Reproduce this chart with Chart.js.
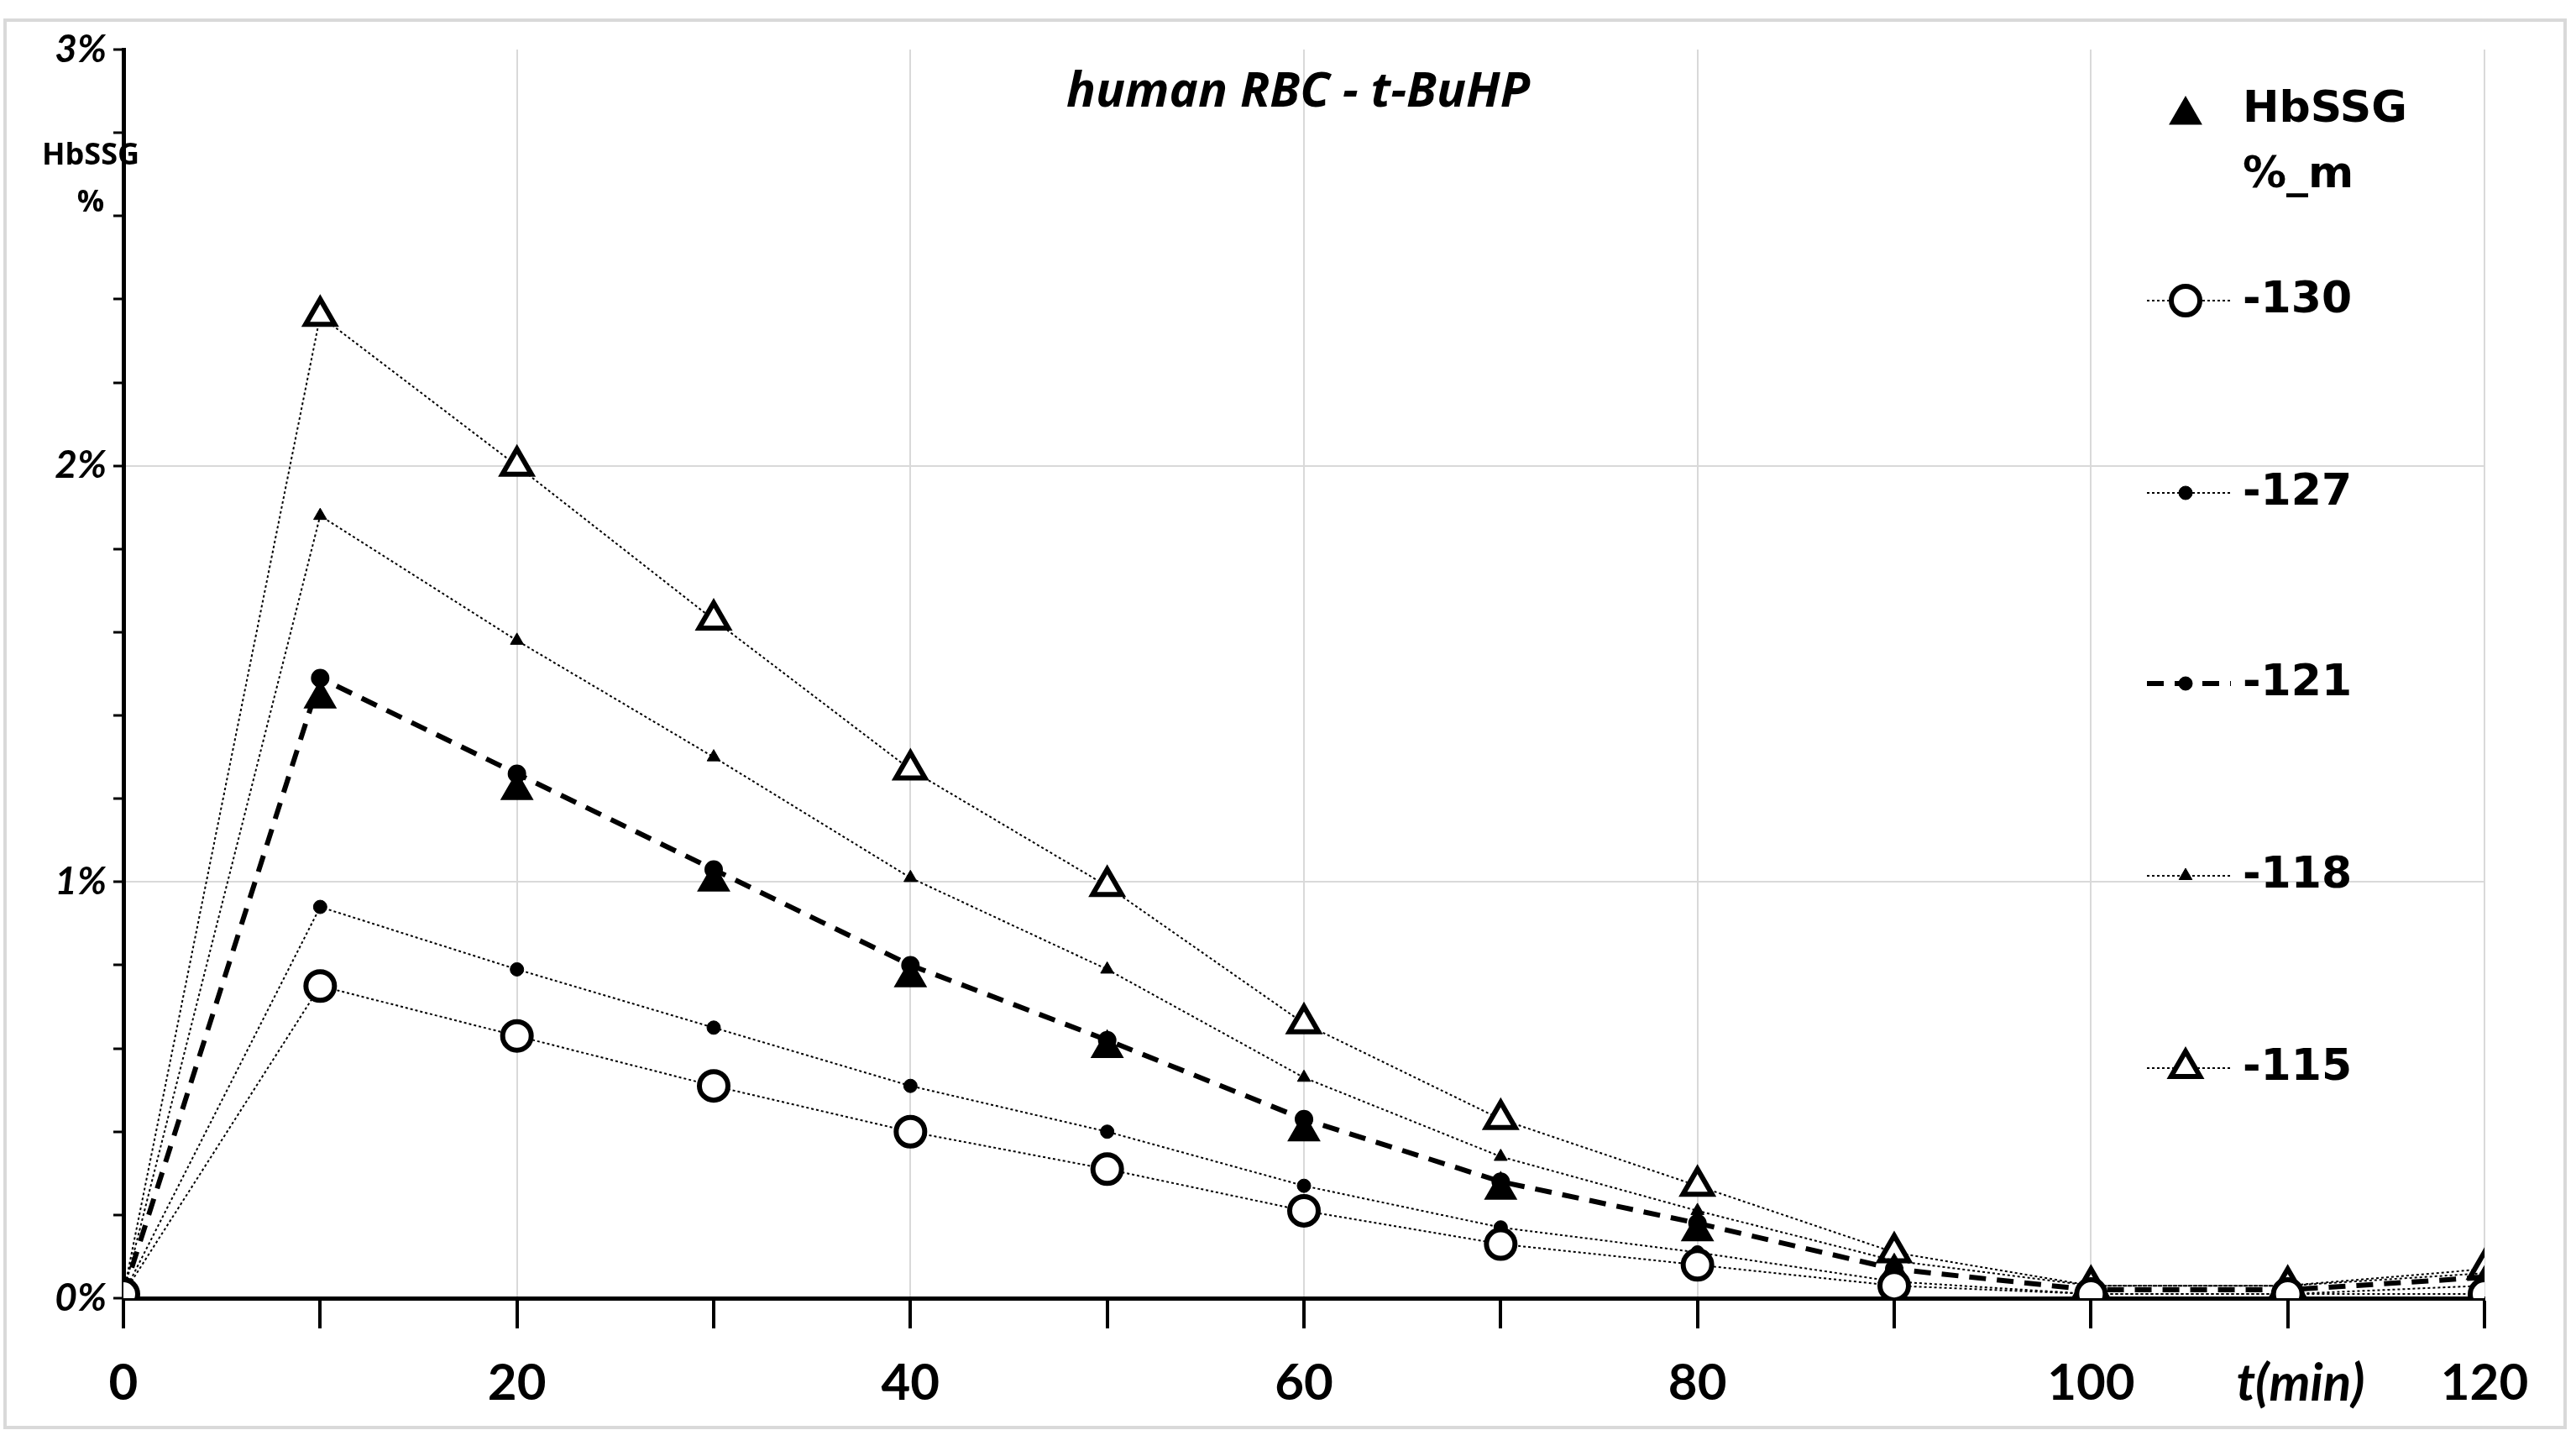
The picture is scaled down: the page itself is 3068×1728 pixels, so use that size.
<!DOCTYPE html>
<html><head><meta charset="utf-8">
<script src="https://cdn.jsdelivr.net/npm/chart.js@4/dist/chart.umd.min.js"></script>
<style>html,body{margin:0;padding:0;background:#fff}#wrap{width:3068px;height:1728px}</style>
</head><body><div id="wrap"><canvas id="c" width="3068" height="1728"></canvas></div>
<script>
const times = [0,10,20,30,40,50,60,70,80,90,100,110,120];
const s130 = [0.01,0.75,0.63,0.51,0.40,0.31,0.21,0.13,0.08,0.03,0.01,0.01,0.01];
const s127 = [0.01,0.94,0.79,0.65,0.51,0.40,0.27,0.17,0.11,0.04,0.01,0.01,0.03];
const s121 = [0.01,1.49,1.26,1.03,0.80,0.62,0.43,0.28,0.18,0.07,0.02,0.02,0.05];
const s118 = [0.01,1.88,1.58,1.30,1.01,0.79,0.53,0.34,0.21,0.09,0.03,0.03,0.06];
const s115 = [0.01,2.36,2.00,1.63,1.27,0.99,0.66,0.43,0.27,0.11,0.03,0.03,0.07];
const hbssgM = [0.01,1.44,1.22,1.00,0.77,0.60,0.40,0.26,0.16,0.06,0.02,0.02,0.03];
const yTickLabels = {0:'0%',1:'1%',2:'2%',3:'3%'};
const xLabelEvery = 20;

const pts = a => a.map((v,i)=>({x:times[i],y:v}));
const dotted = {borderColor:'#000',borderWidth:2,borderDash:[3,3],pointBorderColor:'#000',tension:0};
const datasets = [
 {label:'-130',data:pts(s130),...dotted,pointStyle:'circle',pointRadius:17,pointBackgroundColor:'#fff',pointBorderWidth:6},
 {label:'-127',data:pts(s127),...dotted,pointStyle:'circle',pointRadius:8,pointBackgroundColor:'#000',pointBorderWidth:1},
 {label:'-118',data:pts(s118),...dotted,pointStyle:'triangle',pointRadius:9,pointBackgroundColor:'#000',pointBorderWidth:1},
 {label:'-115',data:pts(s115),...dotted,pointStyle:'triangle',pointRadius:20,pointBackgroundColor:'#fff',pointBorderWidth:6},
 {label:'HbSSG %_m',data:pts(hbssgM),showLine:false,pointStyle:'triangle',pointRadius:21,pointBackgroundColor:'#000',pointBorderColor:'#000',pointBorderWidth:2},
 {label:'-121',data:pts(s121),borderColor:'#000',borderWidth:6,borderDash:[20,13],pointStyle:'circle',pointRadius:8,pointBackgroundColor:'#000',pointBorderColor:'#000',tension:0},
];

function marker(ctx,style,x,y,r,fill,bw){
  ctx.save();ctx.beginPath();
  if(style==='circle'){ctx.arc(x,y,r,0,Math.PI*2);}
  else{ctx.moveTo(x,y-r);ctx.lineTo(x+r*0.866,y+r*0.5);ctx.lineTo(x-r*0.866,y+r*0.5);ctx.closePath();}
  ctx.fillStyle=fill;ctx.fill();ctx.lineWidth=bw;ctx.strokeStyle='#000';ctx.stroke();ctx.restore();
}

const deco = {id:'deco',afterDraw(chart){
  const ctx=chart.ctx;ctx.save();
  ctx.strokeStyle='#d9d9d9';ctx.lineWidth=4;ctx.strokeRect(6,24,3049,1676);
  ctx.fillStyle='#000';ctx.textBaseline='middle';
  ctx.font='italic bold 58px "Open Sans", sans-serif';ctx.textAlign='center';
  ctx.fillText('human RBC - t-BuHP',1546,110);
  ctx.font='bold 36px "Open Sans", sans-serif';
  ctx.fillText('HbSSG',108,186);ctx.fillText('%',108,242);
  ctx.font='italic bold 62px "Liberation Sans Narrow", Lato, sans-serif';
  ctx.fillText('t(min)',2740,1648);
  ctx.textAlign='left';ctx.font='bold 52px "DejaVu Sans", sans-serif';
  marker(ctx,'tri',2603,137,21,'#000',2);
  ctx.fillText('HbSSG',2671,131);ctx.fillText('%_m',2671,209);
  const rows=[['-130',358,'circle',17,'#fff',6,false],['-127',587,'circle',8,'#000',1,false],['-121',814,'circle',8,'#000',1,true],['-118',1043,'tri',9,'#000',1,false],['-115',1272,'tri',20,'#fff',6,false]];
  rows.forEach(r=>{
    ctx.save();ctx.beginPath();ctx.moveTo(2557,r[1]);ctx.lineTo(2657,r[1]);
    ctx.setLineDash(r[6]?[20,13]:[3,3]);ctx.lineWidth=r[6]?6:2;ctx.strokeStyle='#000';ctx.stroke();ctx.restore();
    marker(ctx,r[2],2603,r[1],r[3],r[4],r[5]);
    ctx.fillText(r[0],2671,r[1]);
  });
  ctx.restore();
}};

new Chart(document.getElementById('c'),{
 type:'line',data:{datasets},
 options:{responsive:false,animation:false,
  layout:{padding:{top:59,right:109,left:0,bottom:0}},
  plugins:{legend:{display:false},tooltip:{enabled:false}},
  scales:{
   x:{type:'linear',min:0,max:120,
     afterFit(s){s.height=182;},
     border:{color:'#000',width:5},
     grid:{color:c=>(c.tick&&c.tick.value%20===0&&c.tick.value>0)?'#d9d9d9':'rgba(0,0,0,0)',lineWidth:2,tickColor:'#000',tickWidth:4,tickLength:36},
     ticks:{stepSize:10,autoSkip:false,maxRotation:0,color:'#000',padding:30,
       font:{family:'"Liberation Sans Narrow", Lato, sans-serif',weight:'bold',size:60},
       callback:v=>v%xLabelEvery===0?String(v):''}},
   y:{type:'linear',min:0,max:3,
     afterFit(s){s.width=147;},
     border:{color:'#000',width:5},
     grid:{color:c=>(c.tick&&(c.tick.value===1||c.tick.value===2))?'#d9d9d9':'rgba(0,0,0,0)',lineWidth:2,tickColor:'#000',tickWidth:3,tickLength:12},
     ticks:{stepSize:0.2,autoSkip:false,color:'#000',padding:8,
       font:{family:'"Liberation Sans Narrow", Lato, sans-serif',weight:'bold',style:'italic',size:46},
       callback:v=>{const r=Math.round(v*10)/10;return Number.isInteger(r)?yTickLabels[r]:'';}}}
  }},
 plugins:[deco]});
</script></body></html>
